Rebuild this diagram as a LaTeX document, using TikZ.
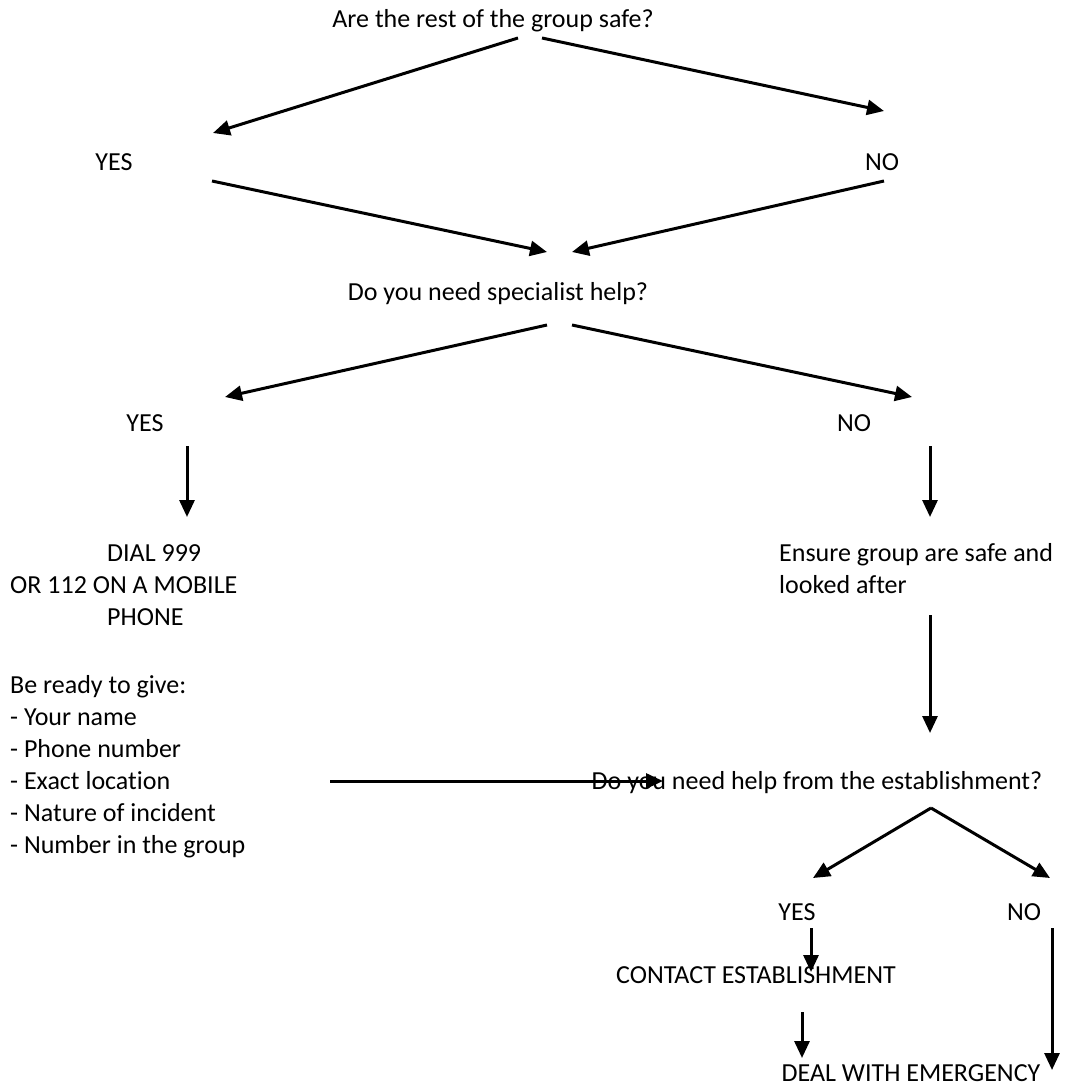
\documentclass[tikz,border=0pt]{standalone}
\usepackage{fontspec}
\setmainfont{Carlito}[Ligatures=NoCommon]
\usetikzlibrary{arrows.meta}
\usetikzlibrary{positioning}

\tikzset{
    lbl/.style={font=\fontsize{26}{32}\selectfont, inner sep=0pt, anchor=base},
    lbll/.style={lbl, anchor=base west},
    arr/.style={-{Triangle[length=17pt,width=15pt]}, line width=3pt},
}

\begin{document}
\begin{tikzpicture}[x=1pt,y=-1pt]
    \useasboundingbox (0,0) rectangle (1065,1086);
    % first question
    \node[lbl] (safe) at (493,28) {Are the rest of the group safe?};
    \node[lbl] (safeyes) at (114,171) {YES};
    \node[lbl] (safeno) at (882,171) {NO};
    % second question
    \node[lbl] (spec) at (498,300) {Do you need specialist help?};
    \node[lbl] (specyes) at (145,431) {YES};
    \node[lbl] (specno) at (854,431) {NO};
    % left column
    \node[lbll] (dial) at (107,561) {DIAL 999};
    \node[lbll] (mobile) at (10,593) {OR 112 ON A MOBILE};
    \node[lbll] (phone) at (107,625) {PHONE};
    \node[lbll] (ready) at (10,693) {Be ready to give:};
    \foreach \t [count=\i] in {Your name, Phone number, Exact location, Nature of incident, Number in the group}
        \node[lbll] (item\i) at (10,693+32*\i) {- \t};
    % right column
    \node[lbll] (ensure) at (779,561) {Ensure group are safe and};
    \node[lbll] (looked) at (779,593) {looked after};
    \node[lbl] (estab) at (817,789) {Do you need help from the establishment?};
    \node[lbl] (estabyes) at (797,920) {YES};
    \node[lbl] (estabno) at (1024,920) {NO};
    \node[lbl] (contact) at (756,983) {CONTACT ESTABLISHMENT};
    \node[lbl] (deal) at (911,1081) {DEAL WITH EMERGENCY};

    % arrow ends
    \coordinate (s1) at (518,38);   \coordinate (e1) at (213,133);
    \coordinate (s2) at (542,38);   \coordinate (e2) at (884,111);
    \coordinate (s3) at (212,181);  \coordinate (e3) at (547,252);
    \coordinate (s4) at (884,181);  \coordinate (e4) at (572,252);
    \coordinate (s5) at (547,325);  \coordinate (e5) at (225,397);
    \coordinate (s6) at (572,325);  \coordinate (e6) at (912,397);
    \coordinate (s7) at (187,446);  \coordinate (e7) at (187,517);
    \coordinate (s8) at (930,446);  \coordinate (e8) at (930,517);
    \coordinate (s9) at (930,615);  \coordinate (e9) at (930,733);
    \coordinate (s10) at (330,781); \coordinate (e10) at (663,781);
    \coordinate (apex) at (931,808);
    \coordinate (e11) at (813,878); \coordinate (e12) at (1050,878);
    \coordinate (s13) at (811,928); \coordinate (e13) at (811,972);
    \coordinate (s14) at (802,1012); \coordinate (e14) at (802,1058);
    \coordinate (s15) at (1052,928); \coordinate (e15) at (1052,1070);

    \draw[arr] (s1) -- (e1);
    \draw[arr] (s2) -- (e2);
    \draw[arr] (s3) -- (e3);
    \draw[arr] (s4) -- (e4);
    \draw[arr] (s5) -- (e5);
    \draw[arr] (s6) -- (e6);
    \draw[arr] (s7) -- (e7);
    \draw[arr] (s8) -- (e8);
    \draw[arr] (s9) -- (e9);
    \draw[arr] (s10) -- (e10);
    \draw[arr] (apex) -- (e11);
    \draw[arr] (apex) -- (e12);
    \draw[arr] (s13) -- (e13);
    \draw[arr] (s14) -- (e14);
    \draw[arr] (s15) -- (e15);
\end{tikzpicture}
\end{document}
